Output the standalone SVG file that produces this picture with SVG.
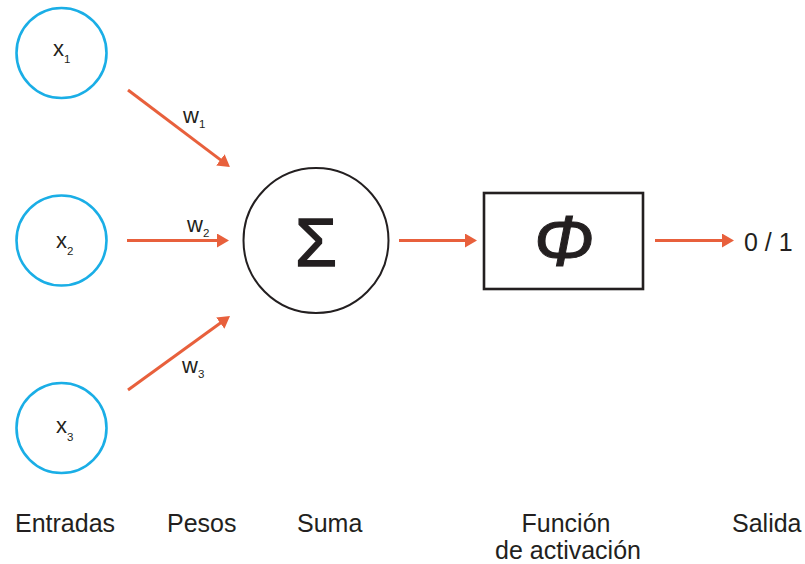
<svg xmlns="http://www.w3.org/2000/svg" width="805" height="564" viewBox="0 0 805 564">
<style>
.in{fill:#fff;stroke:#1AAEE6;stroke-width:2.6}
.t{font-family:"Liberation Sans",Arial,sans-serif;fill:#231F20}
.lbl{font-size:25px}
.v{font-size:22px}
.s{font-size:11.5px}
.c{fill:none;stroke:#E8603C;stroke-width:3}
</style>
<defs>
<marker id="ah" markerUnits="userSpaceOnUse" markerWidth="12" markerHeight="14" viewBox="0 0 12 14" refX="1" refY="7" orient="auto"><path d="M0,0 L12,7 L0,14 z" fill="#E8603C"/></marker>
</defs>
<rect width="805" height="564" fill="#fff"/>
<g id="x1"><circle class="in" cx="61.5" cy="53" r="45"/><text class="t v" x="53" y="56">x<tspan class="s" dy="7">1</tspan></text></g>
<g id="x2"><circle class="in" cx="61.5" cy="240.5" r="45"/><text class="t v" x="56" y="248">x<tspan class="s" dy="6.5">2</tspan></text></g>
<g id="x3"><circle class="in" cx="61.5" cy="428" r="45"/><text class="t v" x="56" y="433">x<tspan class="s" dy="8">3</tspan></text></g>
<g id="sum"><circle cx="316" cy="240.5" r="72.5" fill="#fff" stroke="#231F20" stroke-width="2"/><text class="t" x="316" y="266" font-size="68" text-anchor="middle" stroke="#231F20" stroke-width="1.4">Σ</text></g>
<g id="act"><rect x="484" y="193" width="159" height="96" fill="#fff" stroke="#231F20" stroke-width="2.6"/><text class="t" x="564" y="266" font-size="72" font-style="italic" text-anchor="middle" stroke="#231F20" stroke-width="1">Φ</text></g>
<g id="out"><text class="t lbl" x="744" y="251">0 / 1</text></g>
<g id="connectors">
<line class="c" x1="128" y1="90" x2="221.2" y2="160.4" marker-end="url(#ah)"/>
<line class="c" x1="127" y1="240.5" x2="218" y2="240.5" marker-end="url(#ah)"/>
<line class="c" x1="128" y1="390" x2="221.1" y2="322.5" marker-end="url(#ah)"/>
<line class="c" x1="399" y1="240.5" x2="466" y2="240.5" marker-end="url(#ah)"/>
<line class="c" x1="655" y1="240.5" x2="723" y2="240.5" marker-end="url(#ah)"/>
<text class="t v" x="183" y="123">w<tspan class="s" dy="5">1</tspan></text>
<text class="t v" x="187" y="232">w<tspan class="s" dy="5">2</tspan></text>
<text class="t v" x="182" y="373">w<tspan class="s" dy="5">3</tspan></text>
</g>
<g id="labels">
<text class="t lbl" x="15" y="532">Entradas</text>
<text class="t lbl" x="167" y="532">Pesos</text>
<text class="t lbl" x="297" y="532">Suma</text>
<text class="t lbl" x="566" y="532" text-anchor="middle">Función</text>
<text class="t lbl" x="568" y="559" text-anchor="middle">de activación</text>
<text class="t lbl" x="732" y="532">Salida</text>
</g>
</svg>
